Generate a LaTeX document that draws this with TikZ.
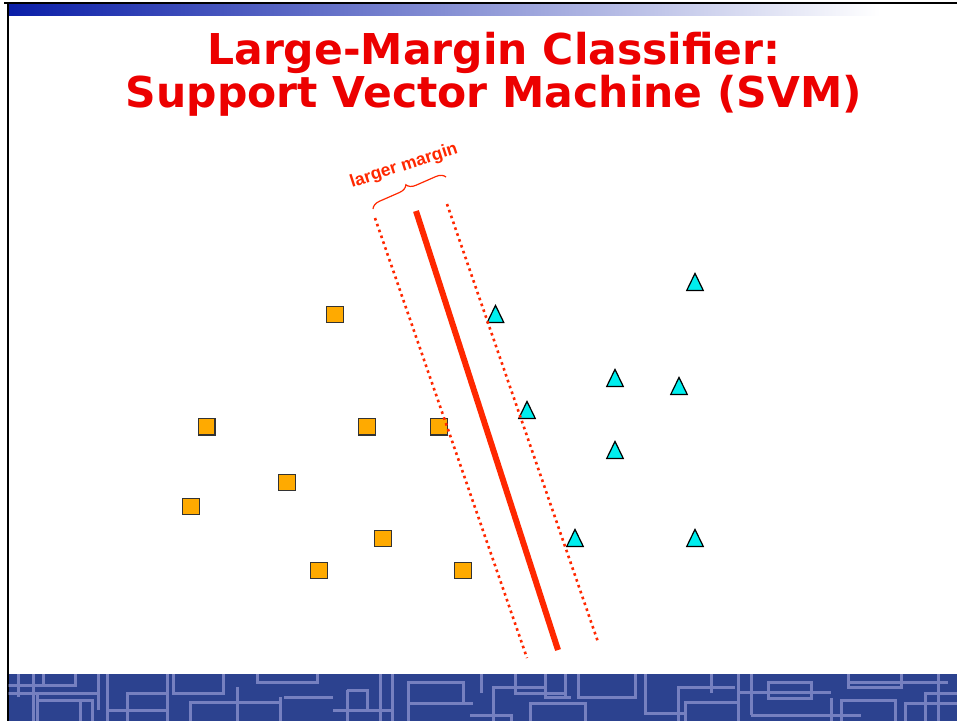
\documentclass[tikz,border=0pt]{standalone}
\usepackage{fontspec}
\setmainfont{DejaVu Sans}
\newfontfamily\labelfont{Liberation Sans}
\usetikzlibrary{shapes.geometric,decorations.pathreplacing}
\definecolor{titlered}{RGB}{236,0,0}
\definecolor{linered}{RGB}{255,40,0}
\definecolor{boxorange}{RGB}{255,170,0}
\definecolor{tricyan}{RGB}{0,238,238}
\definecolor{barblue}{RGB}{10,30,168}
\definecolor{bandblue}{RGB}{44,66,143}
\definecolor{bandline}{RGB}{118,128,192}
\tikzset{
  sq/.style={rectangle, draw=black!80, fill=boxorange, line width=1.2pt,
             minimum size=16.5pt, inner sep=0pt},
  tri/.style={isosceles triangle, shape border rotate=90, isosceles triangle stretches,
              draw=black, fill=tricyan, line width=1.2pt, minimum width=16.5pt,
              minimum height=17pt, inner sep=0pt, anchor=south},
  hyperplane/.style={draw=linered, line width=6pt},
  marginline/.style={draw=linered, line width=2.6pt, dash pattern=on 2.6pt off 3.6pt},
  circuit/.style={draw=bandline, line width=3pt},
  titletext/.style={text=titlered, font=\bfseries\fontsize{42.5}{43}\selectfont, align=center}
}
\begin{document}
\begin{tikzpicture}[x=1pt,y=-1pt]
\useasboundingbox (0,0) rectangle (957,721);
\fill[white] (0,0) rectangle (957,721);

% header frame and gradient bar
\shade[left color=barblue, right color=white] (8,4) rectangle (880,15);
\fill[black] (4,1.5) rectangle (957,4.2);
\fill[black] (6.5,1.5) rectangle (8.7,721);

% footer band with circuit pattern
\begin{scope}
\clip (8.7,674) rectangle (957,721);
\fill[bandblue] (8.7,674) rectangle (957,721);
\draw[circuit]
  (18,674) -- (18,697)
  (33,674) -- (33,721)
  (8,685) -- (45,685)
  (43,674) -- (43,685) -- (75,685) -- (75,674)
  (8,693) -- (97,693)
  (37,693) -- (37,721)
  (37,700) -- (92,700) -- (92,721)
  (80,700) -- (80,721)
  (98,674) -- (98,710)
  (107,674) -- (107,721)
  (107,710) -- (167,710)
  (127,721) -- (127,693) -- (167,693) -- (167,721)
  (167,674) -- (167,693)
  (173,674) -- (173,693) -- (223,693) -- (223,674)
  (190,721) -- (190,702) -- (280,702)
  (237,687) -- (237,721)
  (257,674) -- (257,682) -- (317,682) -- (317,674)
  (280,697) -- (280,721)
  (284,697) -- (333,697)
  (333,710) -- (393,710)
  (347,690) -- (347,721)
  (347,690) -- (367,690) -- (367,710)
  (380,674) -- (380,721)
  (392,674) -- (392,721)
  (408,721) -- (408,682) -- (463,682) -- (463,703)
  (410,703) -- (473,703)
  (481,674) -- (481,693)
  (493,721) -- (493,687) -- (545,687)
  (515,674) -- (515,693) -- (565,693)
  (545,674) -- (545,697) -- (571,697)
  (565,674) -- (565,697)
  (530,721) -- (530,703) -- (585,703) -- (585,721)
  (470,715) -- (511,715) -- (511,721)
  (578,674) -- (578,697) -- (635,697) -- (635,674)
  (645,674) -- (645,713) -- (685,713)
  (678,721) -- (678,687) -- (735,687)
  (711,674) -- (711,693)
  (685,721) -- (685,702) -- (738,702)
  (738,674) -- (738,721)
  (751,674) -- (751,715)
  (738,692) -- (831,692)
  (768,682) rectangle (811,698)
  (831,698) -- (831,721)
  (751,715) -- (861,715)
  (841,721) -- (841,700) -- (895,700) -- (895,721)
  (848,674) -- (848,687) -- (901,687) -- (901,674)
  (848,682) -- (948,682)
  (925,721) -- (925,693) -- (957,693)
  (938,674) -- (938,721)
  (905,721) -- (905,703) -- (957,703);
\end{scope}

% title
\node[titletext] (title) at (494,74) {Large-Margin Classifier:\\Support Vector Machine (SVM)};

% class 1: squares
\node[sq] (s1) at (335,314.5) {};
\node[sq] (s2) at (206.7,426.7) {};
\node[sq] (s3) at (367,426.7) {};
\node[sq] (s4) at (439,426.7) {};
\node[sq] (s5) at (287,482.5) {};
\node[sq] (s6) at (191,506.5) {};
\node[sq] (s7) at (383,538.5) {};
\node[sq] (s8) at (319,570.5) {};
\node[sq] (s9) at (463,570.5) {};

% class 2: triangles (placed by base midpoint)
\node[tri] (t1) at (695,291) {};
\node[tri] (t2) at (495.5,323) {};
\node[tri] (t3) at (615,387) {};
\node[tri] (t4) at (679,395) {};
\node[tri] (t5) at (527,419) {};
\node[tri] (t6) at (615,459) {};
\node[tri] (t7) at (575,547) {};
\node[tri] (t8) at (695,547) {};

% separating hyperplane and margins
\coordinate (hTop) at (416,211);
\coordinate (hBot) at (558,650);
\coordinate (mlTop) at (375,218);
\coordinate (mlBot) at (527,658);
\coordinate (mrTop) at (447,204);
\coordinate (mrBot) at (598,642);
\draw[hyperplane] (hTop) -- (hBot);
\draw[marginline] (mlTop) -- (mlBot);
\draw[marginline] (mrTop) -- (mrBot);

% margin brace and label
\coordinate (bL) at (373,209);
\coordinate (bR) at (446,177);
\draw[linered, line width=1.2pt, decorate,
      decoration={brace, amplitude=9pt, raise=0pt}] (bL) -- (bR);
\node[text=linered, font=\labelfont\bfseries\fontsize{17.5}{17.5}\selectfont,
      rotate=18] (marginlabel) at (404,166) {larger margin};
\end{tikzpicture}
\end{document}
